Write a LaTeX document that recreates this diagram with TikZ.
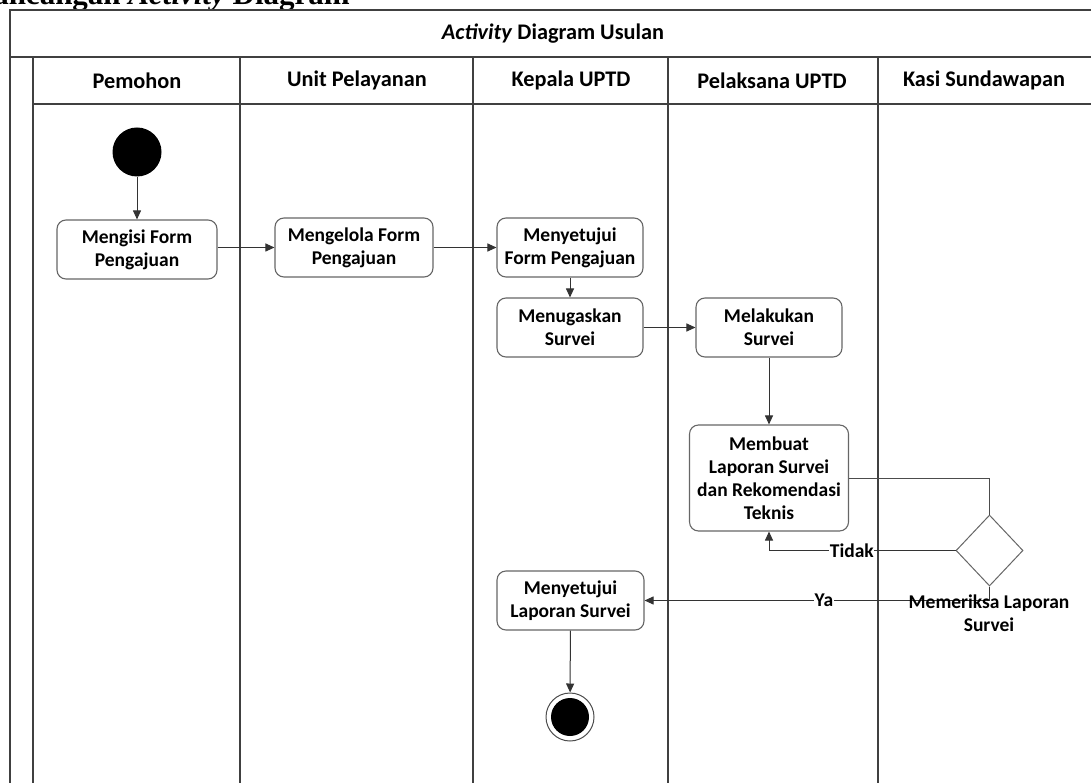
\documentclass[tikz,border=0pt]{standalone}
\usepackage{fontspec}
\setmainfont{Carlito}
\newfontfamily\headserif{Liberation Serif}
\usetikzlibrary{arrows.meta,shapes.geometric}

\begin{document}
\begin{tikzpicture}[x=1pt,y=-1pt,
  lane/.style={draw=black!75, line width=1.4pt},
  act/.style={draw=black!60, line width=1.1pt, rounded corners=9pt, fill=white,
    align=center, font=\fontsize{19.5}{23}\selectfont\bfseries, inner sep=0pt},
  flow/.style={draw=black!80, line width=1pt, -{Triangle[length=9pt,width=8pt]}},
  plain/.style={draw=black!70, line width=1pt},
  hdr/.style={font=\fontsize{22.3}{26}\selectfont\bfseries, inner sep=0pt},
  lbl/.style={font=\fontsize{19.5}{23}\selectfont\bfseries, inner sep=0.5pt}
]
\useasboundingbox (0,0) rectangle (1091,783);
\clip (0,0) rectangle (1091,783);

% page heading above the frame
\node[anchor=base east, inner sep=0pt,
      font=\headserif\fontsize{31}{31}\selectfont\bfseries] (heading) at (350,4.5)
  {Perancangan \textit{Activity} Diagram};

% swimlane frame
\draw[lane] (10,790) -- (10,10) -- (1100,10);
\draw[lane] (10,57) -- (1100,57);
\draw[lane] (33,57) -- (33,790);
\draw[lane] (33,104) -- (1100,104);
\foreach \x in {240,473,668,878} \draw[lane] (\x,57) -- (\x,790);

\node[hdr] (title) at (553,33.5) {\textit{Activity} Diagram Usulan};
\node[hdr] (h1) at (137,80.5) {Pemohon};
\node[hdr] (h2) at (357,80.5) {Unit Pelayanan};
\node[hdr] (h3) at (571,80.5) {Kepala UPTD};
\node[hdr] (h4) at (772,80.5) {Pelaksana UPTD};
\node[hdr] (h5) at (984,80.5) {Kasi Sundawapan};

% activities
\node[circle, fill=black, minimum size=49pt, inner sep=0pt] (start) at (137,152) {};
\node[act, minimum width=160pt, minimum height=59pt] (fill) at (137,249.5) {Mengisi Form\\Pengajuan};
\node[act, minimum width=158pt, minimum height=59pt] (kelola) at (354,247.5) {Mengelola Form\\Pengajuan};
\node[act, minimum width=146pt, minimum height=59pt] (setujuform) at (570,247.5) {Menyetujui\\Form Pengajuan};
\node[act, minimum width=146pt, minimum height=59pt] (tugas) at (570,327.5) {Menugaskan\\Survei};
\node[act, minimum width=146pt, minimum height=59pt] (survei) at (769,327.5) {Melakukan\\Survei};
\node[act, minimum width=159pt, minimum height=106pt] (laporan) at (769,478) {Membuat\\Laporan Survei\\dan Rekomendasi\\Teknis};
\node[diamond, draw=black!60, line width=1pt, fill=white, minimum width=67pt,
      minimum height=71pt, inner sep=0pt] (dec) at (989.5,550.5) {};
\node[act, minimum width=147pt, minimum height=59pt] (setujulap) at (570.5,600.5) {Menyetujui\\Laporan Survei};
\node[circle, draw=black!70, line width=1pt, minimum size=48pt, inner sep=0pt] (end) at (570,717) {};
\fill[black] (end.center) circle (19pt);

% control flow
\draw[flow] (start) -- (fill);
\draw[flow] (fill.east |- kelola.west) -- (kelola.west);
\draw[flow] (kelola) -- (setujuform);
\draw[flow] (setujuform) -- (tugas);
\draw[flow] (tugas) -- (survei);
\draw[flow] (survei) -- (laporan);
\draw[plain] (laporan.east) -| (dec.north);
\draw[flow] (dec.west) -| node[lbl, fill=white, pos=0.278] (tidak) {Tidak} (laporan.south);
\draw[flow] (dec.south) |- node[lbl, fill=white, pos=0.74] (ya) {Ya} (setujulap.east);
\node[lbl, align=center] (declbl) at (989,613.5) {Memeriksa Laporan\\Survei};
\draw[flow] (setujulap) -- (end);
\end{tikzpicture}
\end{document}
